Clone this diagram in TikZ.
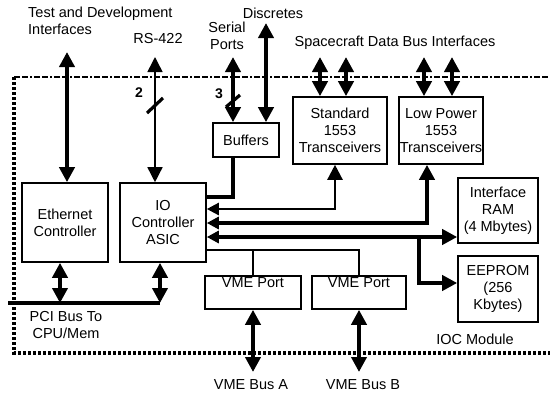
\documentclass[tikz,border=0pt]{standalone}
\usepackage{fontspec}
\setmainfont{Liberation Sans}
\usetikzlibrary{arrows.meta}
\newcommand{\lbl}{\fontsize{14.5}{17}\selectfont}
\newcommand{\numf}{\fontsize{14}{16}\selectfont\bfseries}
\tikzset{
  box/.style={draw, line width=1.6pt, align=center, inner sep=0pt, font=\lbl},
  txt/.style={align=center, inner sep=0pt, font=\lbl},
  thk/.style={line width=4.3pt},
  med/.style={line width=2.4pt},
  thn/.style={line width=1.5pt},
  tip/.tip={Triangle[length=15pt,width=15pt]},
  stip/.tip={Triangle[length=12pt,width=12pt]},
  both/.style={tip-tip},
}
\begin{document}
\begin{tikzpicture}[x=1pt,y=-1pt]
\useasboundingbox (0,0) rectangle (550,392);
% module border
\draw[line width=1.8pt, dash pattern=on 6pt off 2pt on 6pt off 2pt on 2pt off 2pt] (14,77) -- (550,77);
\draw[line width=3.2pt, dash pattern=on 3pt off 2pt] (14,77) -- (14,353) -- (550,353);
% boxes
\node[box, minimum width=86pt, minimum height=79pt] (eth) at (65,222.5) {Ethernet\\Controller};
\node[box, minimum width=86pt, minimum height=79pt] (io) at (163,222.5) {IO\\Controller\\ASIC};
\node[box, minimum width=66pt, minimum height=34pt] (buf) at (246,140) {Buffers};
\node[box, minimum width=94pt, minimum height=67pt] (std) at (340,130.5) {Standard\\1553\\Transceivers};
\node[box, minimum width=84pt, minimum height=67pt] (lp) at (441,130.5) {Low Power\\1553\\Transceivers};
\node[box, minimum width=80pt, minimum height=65pt] (ram) at (498,210.5) {Interface\\RAM\\(4 Mbytes)};
\node[box, minimum width=80pt, minimum height=66pt] (eep) at (498,289) {EEPROM\\(256\\Kbytes)};
\node[box, minimum width=96pt, minimum height=33pt] (vmea) at (253,292.5) {VME Port\\[-3pt]\strut};
\node[box, minimum width=94pt, minimum height=33pt] (vmeb) at (359,292.5) {VME Port\\[-3pt]\strut};
% labels
\node[txt, anchor=north west, align=left] (tdi) at (28,7) {Test and Development\\Interfaces};
\node[txt] (rs) at (158,39) {RS-422};
\node[txt] (ser) at (227,35.5) {Serial\\Ports};
\node[txt] (dis) at (273,13) {Discretes};
\node[txt] (sdb) at (395,43) {Spacecraft Data Bus Interfaces};
\node[txt] (pci) at (66,325.5) {PCI Bus To\\CPU/Mem};
\node[txt] (ioc) at (475,339) {IOC Module};
\node[txt] (vba) at (251,385) {VME Bus A};
\node[txt] (vbb) at (363,385) {VME Bus B};
\node[inner sep=0pt, font=\numf] (n2) at (139,93) {2};
\node[inner sep=0pt, font=\numf] (n3) at (219,94) {3};
% external coordinates
\coordinate (ethT) at (67,52);
\coordinate (rsT) at (155,57);
\coordinate (serT) at (233,57);
\coordinate (disT) at (266,23);
\coordinate (s1) at (320,57);
\coordinate (s2) at (346,57);
\coordinate (s3) at (424,57);
\coordinate (s4) at (452,57);
\coordinate (pciL) at (8,303);
\coordinate (pciR) at (160,303);
\coordinate (vaB) at (253,372);
\coordinate (vbB) at (359,372);
% connectors
\draw[thk, both] (ethT) -- (ethT |- eth.north);
\draw[thn, both] (rsT) -- (rsT |- io.north);
\draw[line width=3.2pt] (147,113) -- (163,98);
\draw[thk, both] (serT) -- (serT |- buf.north);
\draw[line width=3.2pt] (226,107) -- (240,95);
\draw[thk, both] (disT) -- (disT |- buf.north);
\draw[thk, both] (s1) -- (s1 |- std.north);
\draw[thk, both] (s2) -- (s2 |- std.north);
\draw[thk, both] (s3) -- (s3 |- lp.north);
\draw[thk, both] (s4) -- (s4 |- lp.north);
% buffers to IO
\draw[thk] (233,0 |- buf.south) -- (233,197) -- (io.east |- 0,197);
% transceivers to IO
\draw[med, stip-tip] (io.east |- 0,209) -- (335,209) -- (335,0 |- std.south);
\draw[thk, stip-tip] (io.east |- 0,223) -- (427,223) -- (427,0 |- lp.south);
\draw[thk, stip-tip] (io.east |- 0,237) -- (ram.west |- 0,237);
\draw[thk, -tip] (419,237) -- (419,283) -- (eep.west |- 0,283);
% VME ports
\draw[med] (io.east |- 0,250) -- (359,250) -- (359,0 |- vmeb.north);
\draw[med] (253,250) -- (253,0 |- vmea.north);
\draw[thk, both] (vaB |- vmea.south) -- (vaB);
\draw[thk, both] (vbB |- vmeb.south) -- (vbB);
% PCI bus
\draw[thk] (pciL) -- (pciR);
\draw[thk, both] (60,0 |- eth.south) -- (60,303);
\draw[thk, both] (160,0 |- io.south) -- (pciR);
\end{tikzpicture}
\end{document}
